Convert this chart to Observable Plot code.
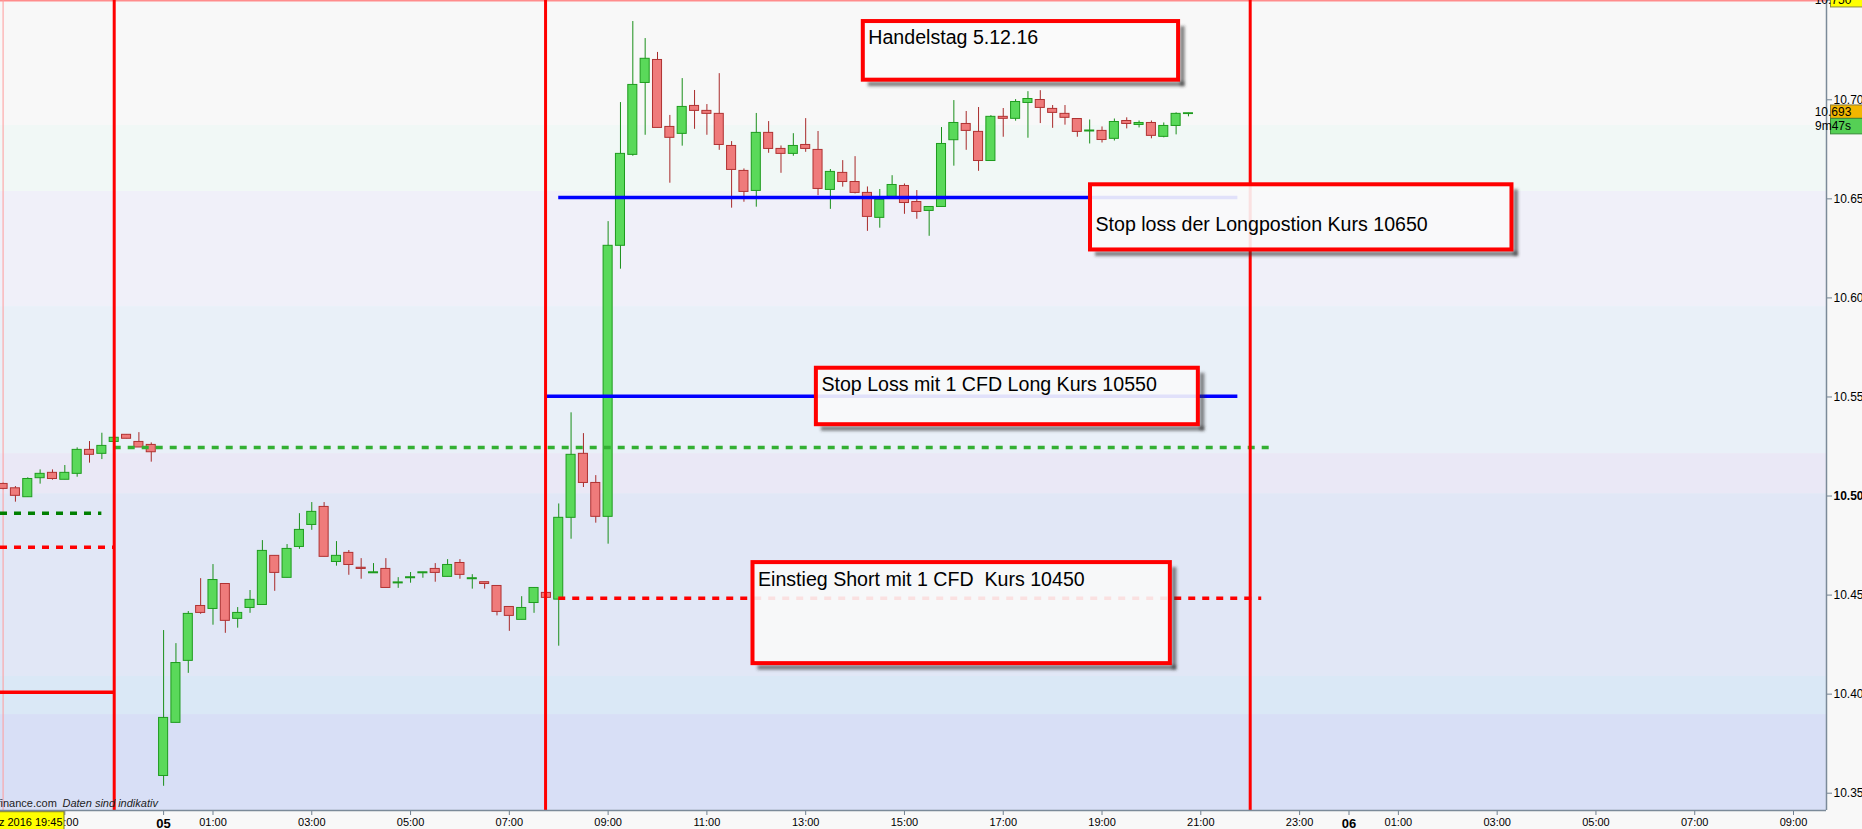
<!DOCTYPE html>
<html><head><meta charset="utf-8">
<script src="https://cdn.jsdelivr.net/npm/d3@7"></script>
<script src="https://cdn.jsdelivr.net/npm/@observablehq/plot@0.6"></script>
<style>
html,body{margin:0;padding:0;background:#f8f8f8;overflow:hidden}
#chart svg text{white-space:pre}
</style></head><body><div id="chart"></div>
<script>
// ---------- DATA ----------
const times = [
"2016-12-04 20:45","2016-12-04 21:00","2016-12-04 21:15","2016-12-04 21:30","2016-12-04 21:45","2016-12-04 22:00","2016-12-04 22:15","2016-12-04 22:30","2016-12-04 22:45","2016-12-04 23:00","2016-12-04 23:15","2016-12-04 23:30","2016-12-04 23:45",
"2016-12-05 00:00","2016-12-05 00:15","2016-12-05 00:30","2016-12-05 00:45","2016-12-05 01:00","2016-12-05 01:15","2016-12-05 01:30","2016-12-05 01:45",
"2016-12-05 02:00","2016-12-05 02:15","2016-12-05 02:30","2016-12-05 02:45","2016-12-05 03:00","2016-12-05 03:15","2016-12-05 03:30","2016-12-05 03:45",
"2016-12-05 04:00","2016-12-05 04:15","2016-12-05 04:30","2016-12-05 04:45","2016-12-05 05:00","2016-12-05 05:15","2016-12-05 05:30","2016-12-05 05:45",
"2016-12-05 06:00","2016-12-05 06:15","2016-12-05 06:30","2016-12-05 06:45","2016-12-05 07:00","2016-12-05 07:15","2016-12-05 07:30","2016-12-05 07:45",
"2016-12-05 08:00","2016-12-05 08:15","2016-12-05 08:30","2016-12-05 08:45","2016-12-05 09:00","2016-12-05 09:15","2016-12-05 09:30","2016-12-05 09:45",
"2016-12-05 10:00","2016-12-05 10:15","2016-12-05 10:30","2016-12-05 10:45","2016-12-05 11:00","2016-12-05 11:15","2016-12-05 11:30","2016-12-05 11:45",
"2016-12-05 12:00","2016-12-05 12:15","2016-12-05 12:30","2016-12-05 12:45","2016-12-05 13:00","2016-12-05 13:15","2016-12-05 13:30","2016-12-05 13:45",
"2016-12-05 14:00","2016-12-05 14:15","2016-12-05 14:30","2016-12-05 14:45","2016-12-05 15:00","2016-12-05 15:15","2016-12-05 15:30","2016-12-05 15:45",
"2016-12-05 16:00","2016-12-05 16:15","2016-12-05 16:30","2016-12-05 16:45","2016-12-05 17:00","2016-12-05 17:15","2016-12-05 17:30","2016-12-05 17:45",
"2016-12-05 18:00","2016-12-05 18:15","2016-12-05 18:30","2016-12-05 18:45","2016-12-05 19:00","2016-12-05 19:15","2016-12-05 19:30","2016-12-05 19:45",
"2016-12-05 20:00","2016-12-05 20:15","2016-12-05 20:30","2016-12-05 20:45"];

const opens = [10506.1,10503.9,10499.4,10509.0,10511.7,10508.2,10511.2,10523.3,10521.3,10527.3,10530.9,10527.3,10525.8,
10358.7,10385.5,10416.8,10444.5,10443.0,10455.6,10438.0,10443.5,10445.0,10469.8,10458.7,10474.3,10485.4,10494.5,10466.7,10471.3,
10463.8,10461.0,10463.2,10455.9,10458.5,10461.0,10463.2,10459.2,10466.2,10458.0,10456.5,10454.6,10444.0,10437.5,10446.0,10451.1,
10447.7,10489.0,10521.3,10506.6,10489.5,10626.3,10672.2,10708.5,10720.1,10686.3,10682.8,10696.9,10694.4,10692.9,10676.7,10664.1,
10654.0,10683.3,10675.2,10672.7,10677.2,10674.7,10654.5,10663.1,10658.5,10653.0,10640.4,10651.0,10656.5,10648.4,10643.9,10645.9,
10679.6,10687.8,10683.8,10669.1,10691.4,10690.4,10698.4,10699.9,10695.4,10692.9,10690.3,10684.0,10684.3,10680.3,10689.3,10687.3,
10688.3,10681.3,10686.8,10692.8];
const highs = [10506.5,10504.8,10509.2,10513.2,10513.2,10515.4,10524.3,10527.5,10531.7,10529.4,10530.9,10532.0,10526.8,
10432.1,10425.5,10441.7,10458.3,10465.4,10455.6,10443.7,10452.3,10477.5,10469.8,10475.5,10491.1,10496.7,10496.7,10477.0,10472.5,
10468.4,10465.9,10468.4,10458.8,10461.4,10461.5,10465.9,10467.9,10467.9,10460.3,10456.5,10454.6,10444.0,10449.2,10453.6,10452.0,
10496.0,10542.0,10531.5,10510.3,10638.5,10698.6,10739.5,10730.9,10723.9,10692.1,10710.7,10704.7,10697.6,10713.2,10678.9,10665.1,
10693.1,10689.0,10676.7,10682.9,10690.5,10684.0,10664.8,10669.3,10671.3,10656.0,10654.7,10661.7,10657.5,10654.2,10645.9,10686.0,
10699.6,10694.1,10696.1,10692.0,10695.6,10700.1,10704.1,10704.6,10697.1,10697.1,10690.3,10689.8,10686.3,10690.3,10690.9,10689.3,
10689.3,10688.3,10693.4,10693.2];
const lows = [10503.2,10496.9,10499.4,10506.0,10508.0,10508.2,10509.5,10516.6,10518.4,10527.3,10528.9,10524.5,10517.1,
10353.5,10385.5,10410.5,10440.3,10434.8,10430.7,10433.3,10440.8,10445.0,10451.9,10458.7,10473.1,10482.7,10469.3,10464.6,10460.0,
10458.0,10461.0,10453.6,10453.4,10456.0,10458.5,10456.5,10459.2,10458.0,10453.0,10453.0,10439.5,10431.7,10437.5,10440.8,10447.5,
10424.2,10478.2,10504.3,10486.3,10475.7,10614.5,10671.5,10682.1,10685.8,10657.9,10676.6,10685.1,10682.1,10674.5,10645.3,10648.3,
10645.8,10673.0,10662.9,10671.5,10673.5,10651.6,10644.7,10655.9,10652.5,10633.6,10635.2,10651.0,10642.2,10639.7,10631.1,10645.9,
10666.5,10674.5,10663.9,10669.1,10681.1,10689.2,10680.6,10688.0,10685.6,10687.2,10681.1,10677.7,10678.2,10679.2,10685.3,10685.8,
10680.3,10680.8,10682.3,10691.4];
const closes = [10503.6,10500.1,10508.6,10511.2,10508.6,10511.7,10523.3,10520.8,10525.3,10529.4,10528.9,10524.5,10522.1,
10388.0,10415.7,10440.5,10441.0,10457.6,10437.0,10441.0,10447.6,10472.3,10461.2,10473.3,10482.9,10492.0,10469.3,10469.8,10465.2,
10463.2,10461.5,10453.6,10456.4,10459.0,10461.5,10461.2,10465.2,10460.2,10458.5,10455.6,10441.5,10439.5,10443.5,10453.6,10448.6,
10489.0,10520.8,10506.6,10489.5,10626.3,10672.7,10707.5,10720.7,10685.8,10680.8,10696.4,10694.4,10692.9,10677.2,10664.6,10653.5,
10683.3,10675.2,10672.7,10676.7,10675.2,10655.0,10663.6,10658.5,10653.0,10640.9,10649.5,10657.0,10647.9,10643.4,10645.9,10677.7,
10688.3,10684.3,10669.1,10691.4,10690.4,10698.9,10700.4,10695.9,10693.4,10690.9,10683.8,10684.5,10679.7,10688.8,10687.8,10688.3,
10681.8,10686.8,10692.9,10693.2];

// horizontal level lines (price, from, to)
const levelPrices = [10650.7, 10550.4, 10524.5, 10491.3, 10474.2, 10448.4, 10401.0];
const levelFrom = ["2016-12-05 08:00:00","2016-12-05 07:44:00","2016-12-04 23:00:00","2016-12-04 20:41:52","2016-12-04 20:41:52","2016-12-05 08:00:00","2016-12-04 20:41:52"];
const levelTo   = ["2016-12-05 21:45:00","2016-12-05 21:45:00","2016-12-05 22:24:00","2016-12-04 22:45:00","2016-12-04 23:00:00","2016-12-05 22:14:00","2016-12-04 23:00:00"];

// vertical session lines
const sessionLines = ["2016-12-04 23:00:00","2016-12-05 07:44:00","2016-12-05 22:00:00"];
const markerLine = ["2016-12-04 20:45:00"];

// background price bands
const bandEdges = [10750.12, 10687.0, 10653.7, 10595.6, 10521.4, 10501.2, 10408.9, 10389.7, 10341.27];

// annotations
const noteTexts = ["Handelstag 5.12.16", "Stop loss der Longpostion Kurs 10650", "Stop Loss mit 1 CFD Long Kurs 10550", "Einstieg Short mit 1 CFD  Kurs 10450"];
const noteFrom = ["2016-12-05 14:10:00","2016-12-05 18:46:00","2016-12-05 13:13:00","2016-12-05 11:56:00"];
const noteTo   = ["2016-12-05 20:33:00","2016-12-06 03:18:00","2016-12-05 20:57:00","2016-12-05 20:23:00"];
const noteTop = [10739.5, 10657.1, 10564.5, 10466.4];
const noteBottom = [10709.9, 10624.2, 10536.0, 10415.4];
const noteBaseline = [10728.4, 10634.0, 10552.9, 10454.8];

// axes
const yTicks = [10350, 10400, 10450, 10500, 10550, 10600, 10650, 10700];
const xTickTimes = ["2016-12-04 22:00:00","2016-12-05 00:00:00","2016-12-05 01:00:00","2016-12-05 03:00:00","2016-12-05 05:00:00","2016-12-05 07:00:00","2016-12-05 09:00:00","2016-12-05 11:00:00","2016-12-05 13:00:00","2016-12-05 15:00:00","2016-12-05 17:00:00","2016-12-05 19:00:00","2016-12-05 21:00:00","2016-12-05 23:00:00","2016-12-06 00:00:00","2016-12-06 01:00:00","2016-12-06 03:00:00","2016-12-06 05:00:00","2016-12-06 07:00:00","2016-12-06 09:00:00"];
const xTickLabels = ["22:00","05","01:00","03:00","05:00","07:00","09:00","11:00","13:00","15:00","17:00","19:00","21:00","23:00","06","01:00","03:00","05:00","07:00","09:00"];
const dayLabels = ["05","06"];
const xDomainStr = ["2016-12-04 20:41:52","2016-12-06 09:40:05"];
const yDomain = [10341.27, 10750.12];

const lastPrice = 10693, highLabel = 10750, countdown = "9m47s", cursorDate = "Dez 2016 19:45";
const sourceText = "finance.com", noteSource = "Daten sind indikativ";

// ---------- STYLES ----------
const FONT = "Arial, 'Liberation Sans', sans-serif";
const bandFills = ["#f8f8f8","#f1f8f6","#f0f0f9","#e9f0f8","#eae8f6","#e1e7f6","#dae8f6","#d8dff6"];
const levelStyles = [
  {stroke:"#0000ff", w:3.5, dash:null},
  {stroke:"#0000ff", w:3.5, dash:null},
  {stroke:"#33b033", w:3.5, dash:"7,7"},
  {stroke:"#008000", w:3.5, dash:"7,7"},
  {stroke:"#ff0000", w:3.5, dash:"7,7"},
  {stroke:"#ff0000", w:3.5, dash:"7,7"},
  {stroke:"#ff0000", w:3.5, dash:null}
];
const UP_FILL="#5ad95a", UP_STROKE="#1e9b1e", UP_WICK="#1a8f1a";
const DN_FILL="#ef7b7b", DN_STROKE="#b03232", DN_WICK="#a82a2a";

// ---------- BUILD ----------
const parseM = d3.timeParse("%Y-%m-%d %H:%M");
const parseS = d3.timeParse("%Y-%m-%d %H:%M:%S");
const candles = times.map((t, i) => ({time: parseM(t), open: opens[i], high: highs[i], low: lows[i], close: closes[i]}));
const ups = candles.filter(d => d.close >= d.open);
const downs = candles.filter(d => d.close < d.open);
const half = 5.5 * 60 * 1000;
const bands = bandFills.map((f, i) => ({hi: bandEdges[i], lo: bandEdges[i+1], fill: f}));
const levels = levelPrices.map((p, i) => ({y: p, x1: parseS(levelFrom[i]), x2: parseS(levelTo[i])}));
const notes = noteTexts.map((t, i) => ({text: t, x1: parseS(noteFrom[i]), x2: parseS(noteTo[i]), top: noteTop[i], bottom: noteBottom[i], base: noteBaseline[i]}));
const xDomain = xDomainStr.map(parseS);
const xTicks = xTickTimes.map(parseS);
const xLabelMap = new Map(xTicks.map((d, i) => [+d, xTickLabels[i]]));
const deFmt = d3.formatLocale({decimal: ",", thousands: ".", grouping: [3], currency: ["", "€"]}).format(",.0f");

const marks = [];
bands.forEach(b => marks.push(Plot.rect([b], {y1: "lo", y2: "hi", fill: b.fill})));
marks.push(Plot.ruleY([yDomain[1]], {stroke: "#ff8c8c", strokeWidth: 2}));
marks.push(Plot.ruleX(markerLine.map(parseS), {stroke: "#ff9c9c", strokeWidth: 1}));
marks.push(Plot.ruleX(ups, {x: "time", y1: "low", y2: "high", stroke: UP_WICK, strokeWidth: 1}));
marks.push(Plot.ruleX(downs, {x: "time", y1: "low", y2: "high", stroke: DN_WICK, strokeWidth: 1}));
marks.push(Plot.rect(ups, {x1: d => new Date(+d.time - half), x2: d => new Date(+d.time + half), y1: "open", y2: "close", fill: UP_FILL, stroke: UP_STROKE, strokeWidth: 1}));
marks.push(Plot.rect(downs, {x1: d => new Date(+d.time - half), x2: d => new Date(+d.time + half), y1: "open", y2: "close", fill: DN_FILL, stroke: DN_STROKE, strokeWidth: 1}));
levels.forEach((l, i) => {
  const s = levelStyles[i];
  const o = {y: "y", x1: "x1", x2: "x2", stroke: s.stroke, strokeWidth: s.w};
  if (s.dash) o.strokeDasharray = s.dash;
  marks.push(Plot.ruleY([l], o));
});
marks.push(Plot.ruleX(sessionLines.map(parseS), {stroke: "#ff0000", strokeWidth: 3}));
marks.push(Plot.rect(notes, {x1: "x1", x2: "x2", y1: "bottom", y2: "top", fill: "#f9f9f9", fillOpacity: 0.9, stroke: "#ff0000", strokeWidth: 4, ariaDescription: "note-box"}));
marks.push(Plot.text(notes, {x: "x1", y: "base", text: "text", dx: 5, textAnchor: "start", lineAnchor: "bottom", fontSize: 19.6, fill: "#000"}));
marks.push(Plot.ruleY([yDomain[0]], {stroke: "#7b8a99", strokeWidth: 1.5}));
marks.push(Plot.ruleX([xDomain[1]], {stroke: "#7b8a99", strokeWidth: 1.5}));
marks.push(Plot.text([sourceText], {frameAnchor: "bottom-left", text: d => d, textAnchor: "start", lineAnchor: "bottom", dx: -3, dy: -3.5, fill: "#222", fontSize: 11}));
marks.push(Plot.text([noteSource], {frameAnchor: "bottom-left", text: d => d, textAnchor: "start", lineAnchor: "bottom", dx: 62, dy: -3.5, fill: "#222", fontSize: 11, fontStyle: "italic"}));

const plot = Plot.plot({
  width: 1862, height: 829,
  marginLeft: 0, marginRight: 36, marginTop: 0, marginBottom: 19,
  style: {background: "#f8f8f8", fontFamily: FONT, fontSize: "11px", color: "#000", overflow: "visible"},
  x: {type: "time", domain: xDomain, ticks: xTicks, tickFormat: d => xLabelMap.get(+d) ?? "", tickSize: 5, tickPadding: 3, label: null},
  y: {domain: yDomain, axis: "right", ticks: yTicks, tickFormat: d => deFmt(d), tickSize: 5, tickPadding: 2, label: null},
  marks
});
document.getElementById("chart").appendChild(plot);

// ---------- POST STYLING ----------
const svgNode = plot.tagName.toLowerCase() === "svg" ? plot : plot.querySelector("svg");
const svg = d3.select(svgNode);
const defs = svg.insert("defs", ":first-child");
defs.append("filter").attr("id", "shadowBlur").attr("x", "-50%").attr("y", "-50%").attr("width", "200%").attr("height", "200%")
  .append("feGaussianBlur").attr("stdDeviation", 1.8);

// drop shadow strips (right and bottom) behind each annotation box
let boxG = svg.select('g[aria-description="note-box"]');
if (boxG.empty()) {
  // fallback: the rect group whose rects have a 4px red stroke
  svg.selectAll("g").each(function() { if (this.getAttribute("stroke-width") === "4" && this.getAttribute("stroke") === "#ff0000") boxG = d3.select(this); });
}
if (!boxG.empty()) {
  const shadowLayer = svg.insert("g", () => boxG.node()).attr("filter", "url(#shadowBlur)").attr("fill", "#303030").attr("fill-opacity", 0.6);
  const tr = boxG.attr("transform");
  if (tr) shadowLayer.attr("transform", tr);
  boxG.selectAll("rect").each(function() {
    const x = +this.getAttribute("x"), y = +this.getAttribute("y");
    const w = +this.getAttribute("width"), h = +this.getAttribute("height");
    shadowLayer.append("rect").attr("x", x + w + 2).attr("y", y + 5).attr("width", 4.5).attr("height", h + 1.5);
    shadowLayer.append("rect").attr("x", x + 5).attr("y", y + h + 2).attr("width", w + 1.5).attr("height", 4.5);
  });
}

svg.selectAll("text").each(function() {
  const t = this.textContent;
  if (dayLabels.includes(t)) d3.select(this).attr("font-weight", "bold").attr("font-size", "13px");
  if (/^10\.\d{3}$/.test(t)) d3.select(this).attr("font-size", "12px");
  if (t === deFmt(10500)) d3.select(this).attr("font-weight", "bold");
});
svg.selectAll('[aria-label$="axis"] line, [aria-label$="axis tick"] path').attr("stroke", "#708090");

const ys = plot.scale("y");
const H = 829, MB = 19, MT = 0;
const yPx = v => (ys && ys.apply) ? ys.apply(v) : MT + (yDomain[1] - v) / (yDomain[1] - yDomain[0]) * (H - MT - MB);
const g = svg.append("g").attr("font-family", FONT).attr("font-size", 12);
const yh = yPx(highLabel);
g.append("line").attr("x1", 1826).attr("x2", 1831).attr("y1", yh).attr("y2", yh).attr("stroke", "#708090");
g.append("rect").attr("x", 1830.5).attr("y", yh - 6.7).attr("width", 40).attr("height", 13.4).attr("fill", "#ffff00").attr("stroke", "#8a8a3a");
g.append("text").attr("x", 1833).attr("y", yh).attr("dy", "0.35em").text(deFmt(highLabel));
const yl = yPx(lastPrice) - 1.5;
g.append("rect").attr("x", 1830.5).attr("y", yl - 6.7).attr("width", 40).attr("height", 13.4).attr("fill", "#f2b600").attr("stroke", "#8a7a3a");
g.append("text").attr("x", 1833).attr("y", yl).attr("dy", "0.35em").text(deFmt(lastPrice));
g.append("rect").attr("x", 1830.5).attr("y", yl + 6.7).attr("width", 40).attr("height", 15.5).attr("fill", "#55d055").attr("stroke", "#3a8a3a");
g.append("text").attr("x", 1833).attr("y", yl + 14.5).attr("dy", "0.35em").text(countdown);
// cursor date box bottom-left
g.append("rect").attr("x", -1).attr("y", 811.7).attr("width", 65).attr("height", 19).attr("fill", "#ffff00").attr("stroke", "#7a7a2a");
g.append("text").attr("x", 62.5).attr("y", 825.5).attr("text-anchor", "end").attr("font-size", 11).text(cursorDate);
</script></body></html>
